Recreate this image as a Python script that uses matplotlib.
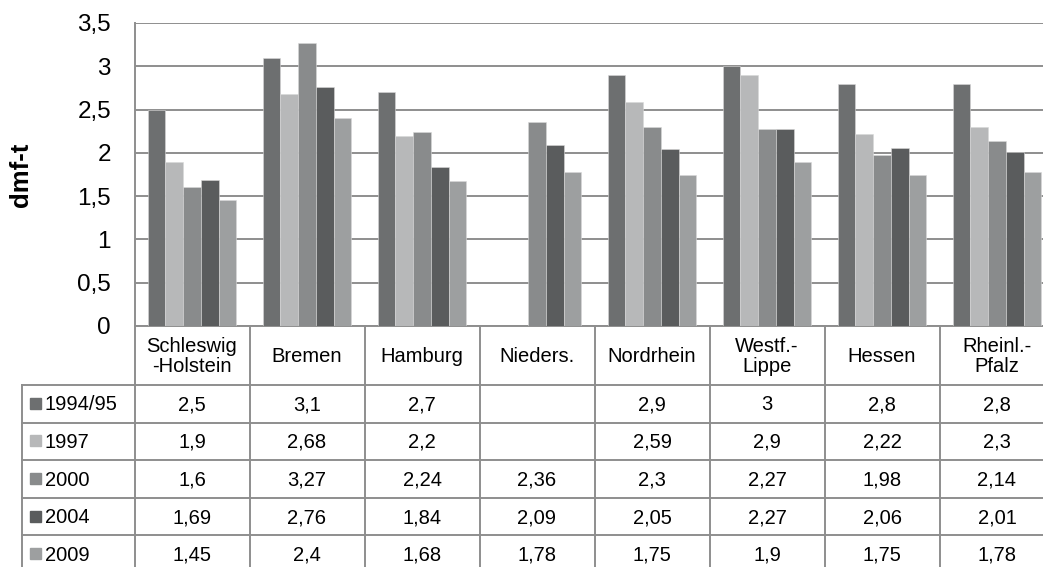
import numpy as np
import matplotlib
matplotlib.use("Agg")
import matplotlib.pyplot as plt
from matplotlib.patches import Rectangle

plt.rcParams['font.family'] = ['Liberation Sans', 'DejaVu Sans']

regions = ["Schleswig\n-Holstein", "Bremen", "Hamburg", "Nieders.",
           "Nordrhein", "Westf.-\nLippe", "Hessen", "Rheinl.-\nPfalz"]
years = ["1994/95", "1997", "2000", "2004", "2009"]
nan = np.nan
v1994 = [2.5, 3.1, 2.7, nan, 2.9, 3, 2.8, 2.8]
v1997 = [1.9, 2.68, 2.2, nan, 2.59, 2.9, 2.22, 2.3]
v2000 = [1.6, 3.27, 2.24, 2.36, 2.3, 2.27, 1.98, 2.14]
v2004 = [1.69, 2.76, 1.84, 2.09, 2.05, 2.27, 2.06, 2.01]
v2009 = [1.45, 2.4, 1.68, 1.78, 1.75, 1.9, 1.75, 1.78]
series = [v1994, v1997, v2000, v2004, v2009]
colors = ["#6d6f70", "#b7b8b9", "#898b8c", "#5a5c5d", "#9d9fa0"]

W, H = 1043, 567
fig = plt.figure(figsize=(W / 100, H / 100), dpi=100)

# chart area, pixel layout
x0, col_w = 134.5, 115.0
y_top, y_zero = 23.0, 326.0
ax = fig.add_axes([x0 / W, (H - y_zero) / H, 8 * col_w / W, (y_zero - y_top) / H])

grid_c = "#8e8e8e"
bw = 0.154
x = np.arange(len(regions)) + 0.5
for k, (vals, c) in enumerate(zip(series, colors)):
    ax.bar(x + (k - 2) * bw, vals, width=bw, color=c, edgecolor="#d8d8d8",
           linewidth=0.4, zorder=3)

ax.set_xlim(0, len(regions))
ax.set_ylim(0, 3.5)
ticks = np.arange(0, 3.51, 0.5)
ax.set_yticks(ticks)
ax.set_yticklabels([f"{t:g}".replace(".", ",") for t in ticks], fontsize=17.5)
ax.tick_params(axis="y", length=0, pad=17)
ax.set_xticks([])
ax.yaxis.grid(True, color=grid_c, linewidth=1.4, zorder=0)
for s in ["top", "right"]:
    ax.spines[s].set_visible(False)
for s in ["left", "bottom"]:
    ax.spines[s].set_color(grid_c)
    ax.spines[s].set_linewidth(1.4)
ax.set_ylabel("dmf-t", fontsize=18.5, fontweight="bold")
ax.yaxis.set_label_coords(-0.110, 0.5)

# data table under the axis
tb = fig.add_axes([0, 0, 1, 1], zorder=5)
tb.set_xlim(0, W)
tb.set_ylim(H, 0)
tb.axis("off")

row_h = 37.6
head_bottom = 385.0
lw = 1.4
fs = 14.5
for j in range(len(regions) + 1):
    xx = x0 + j * col_w
    tb.plot([xx, xx], [y_zero, H + 5], color=grid_c, lw=lw)
tb.plot([22, 22], [head_bottom, H + 5], color=grid_c, lw=lw)
for r in range(len(years) + 1):
    yy = head_bottom + r * row_h
    tb.plot([22, W + 5], [yy, yy], color=grid_c, lw=lw)

for j, name in enumerate(regions):
    tb.text(x0 + (j + 0.5) * col_w, (y_zero + head_bottom) / 2 + 1, name,
            ha="center", va="center", fontsize=fs, linespacing=1.13)

for r, (yr, vals, c) in enumerate(zip(years, series, colors)):
    yc = head_bottom + (r + 0.5) * row_h
    tb.add_patch(Rectangle((30, yc - 6), 11, 11, color=c))
    tb.text(45, yc + 1, yr, ha="left", va="center", fontsize=fs)
    for j, v in enumerate(vals):
        if np.isnan(v):
            continue
        tb.text(x0 + (j + 0.5) * col_w, yc + 1, f"{v:g}".replace(".", ","),
                ha="center", va="center", fontsize=fs)

fig.savefig("out.png", dpi=100)
